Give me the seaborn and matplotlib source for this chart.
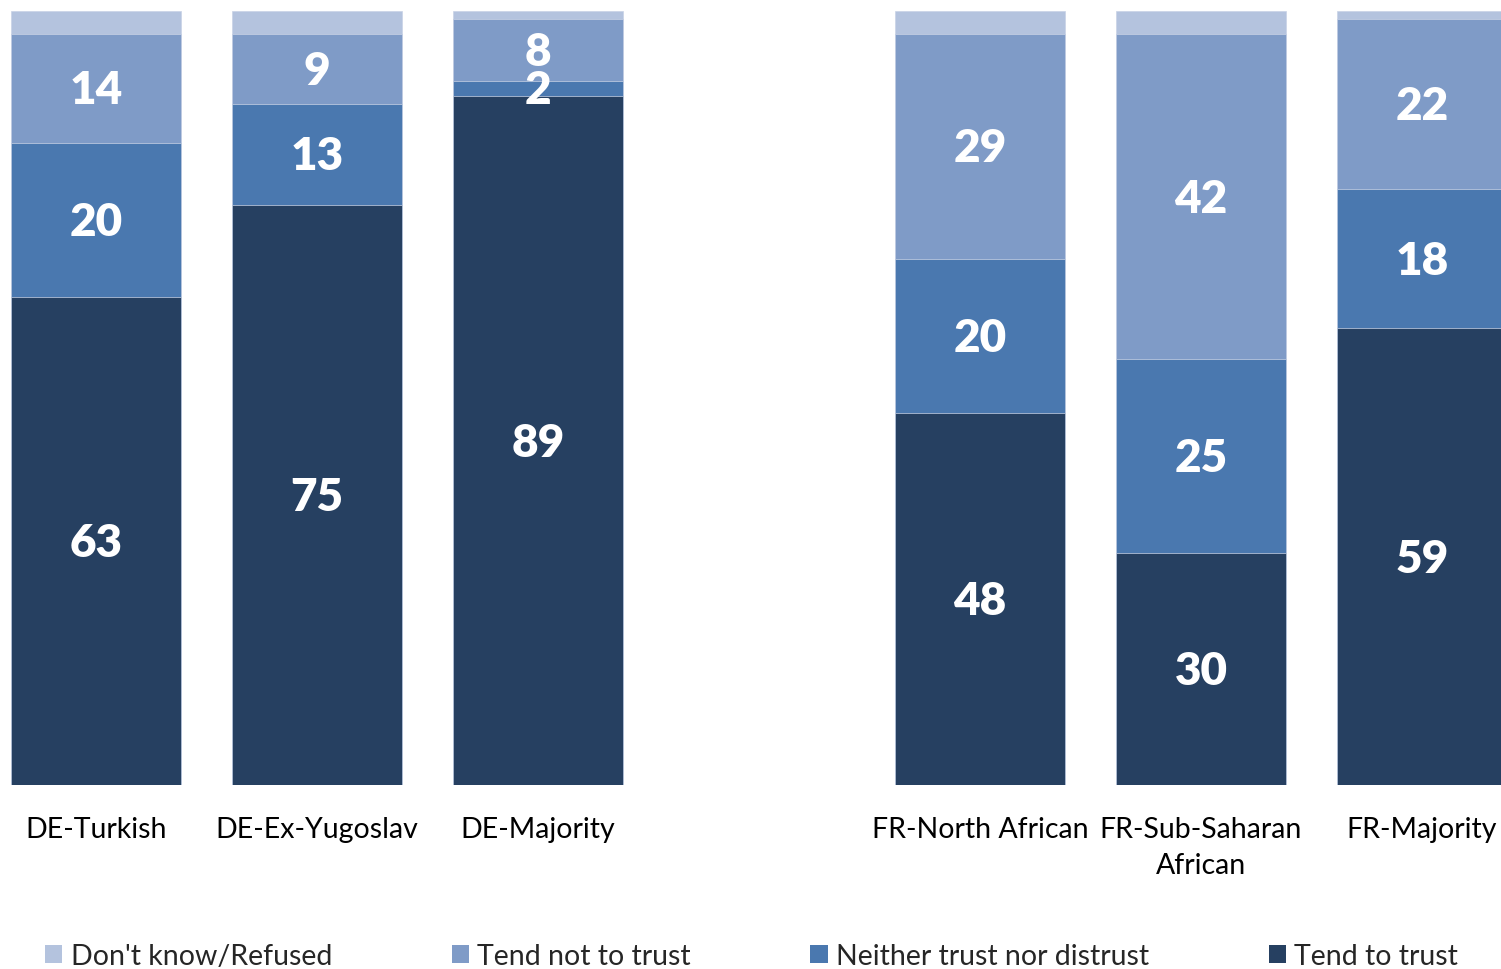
import matplotlib
matplotlib.use("Agg")
import matplotlib.pyplot as plt
from matplotlib.patches import Patch
import seaborn as sns
import pandas as pd
import numpy as np

# Survey groups (an empty slot separates the German and French groups)
groups = ["DE-Turkish", "DE-Ex-Yugoslav", "DE-Majority",
          "FR-North African", "FR-Sub-Saharan\nAfrican", "FR-Majority"]
order = ["DE-Turkish", "DE-Ex-Yugoslav", "DE-Majority", " ",
         "FR-North African", "FR-Sub-Saharan\nAfrican", "FR-Majority"]

# Shares in percent, bottom to top of each stack
tend_to_trust = [63, 75, 89, 48, 30, 59]
neither = [20, 13, 2, 20, 25, 18]
tend_not_to_trust = [14, 9, 8, 29, 42, 22]
dont_know = [3, 3, 1, 3, 3, 1]

series_names = ["Tend to trust", "Neither trust nor distrust",
                "Tend not to trust", "Don't know/Refused"]
series_values = [tend_to_trust, neither, tend_not_to_trust, dont_know]
colors = ["#264061", "#4A78AF", "#7F9BC7", "#B4C3DE"]

font = "Lato"
sns.set_theme(style="white")
plt.rcParams["font.family"] = [font, "DejaVu Sans"]

df = pd.DataFrame({"group": groups})
for name, vals in zip(series_names, series_values):
    df[name] = vals
cum = df[series_names].cumsum(axis=1)

fig = plt.figure(figsize=(15.01, 9.70), dpi=100)
ax = fig.add_axes([0, (970 - 786) / 970, 1, (786 - 12) / 970])

# Stacked bars: draw cumulative totals from the top layer down
for i in range(len(series_names) - 1, -1, -1):
    sns.barplot(x=df["group"], y=cum[series_names[i]], order=order,
                color=colors[i], width=0.77, saturation=1,
                edgecolor="#C9D3E6", linewidth=0.5, ax=ax)

# Value labels centred in each visible segment (not for "Don't know")
for gi, g in enumerate(groups):
    x = order.index(g)
    base = 0
    for si in range(3):
        v = series_values[si][gi]
        ax.text(x, base + v / 2 - 0.2, f"{v}", ha="center", va="center",
                color="white", fontsize=33, fontweight="heavy")
        base += v

ax.set_xlim(-96 / 221, (1501 - 96) / 221)
ax.set_ylim(0, 100)
ax.set_xlabel("")
ax.set_ylabel("")
ax.set_yticks([])
sns.despine(ax=ax, left=True, bottom=True)
ax.tick_params(axis="x", length=0, pad=22, labelsize=20.5, labelcolor="black")
for lab in ax.get_xticklabels():
    lab.set_linespacing(1.5)

handles = [Patch(facecolor=colors[i], edgecolor="none") for i in [3, 2, 1, 0]]
labels = [series_names[i] for i in [3, 2, 1, 0]]
fig.legend(handles, labels, loc="center left", bbox_to_anchor=(0.030, 0.013),
           ncol=4, frameon=False, fontsize=20.5, handlelength=0.6,
           handleheight=0.6, handletextpad=0.3, columnspacing=4.2,
           borderaxespad=0, borderpad=0)

fig.savefig("out.png", dpi=100)
